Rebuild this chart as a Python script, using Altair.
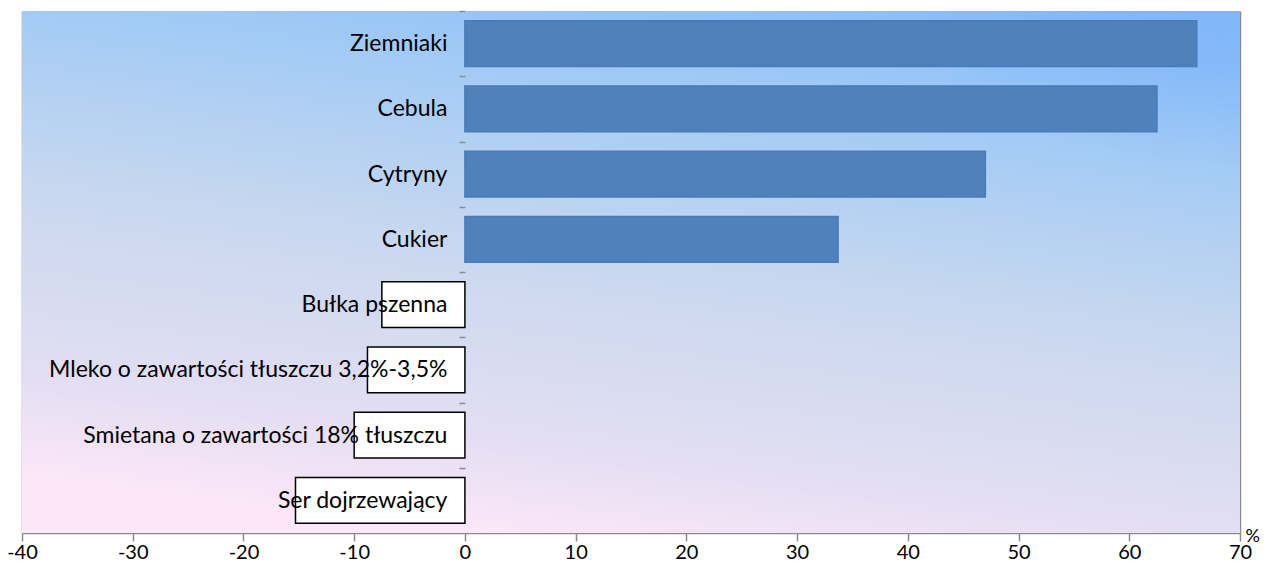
import altair as alt
import pandas as pd

categories = [
    "Ziemniaki",
    "Cebula",
    "Cytryny",
    "Cukier",
    "Bułka pszenna",
    "Mleko o zawartości tłuszczu 3,2%-3,5%",
    "Smietana o zawartości 18% tłuszczu",
    "Ser dojrzewający",
]
values = [66.1, 62.5, 47.0, 33.7, -7.5, -8.8, -10.0, -15.3]
x_ticks = [-40, -30, -20, -10, 0, 10, 20, 30, 40, 50, 60, 70]

df = pd.DataFrame({"category": categories, "value": values})

W, H = 1218, 522
X_MIN, X_MAX = -40, 70
zero_px = W * (0 - X_MIN) / (X_MAX - X_MIN)
step = H / len(categories)
FONT = "Lato"
GRID = "#8c8c8c"

base_gradient = {
    "gradient": "linear",
    "x1": 0.35, "y1": 1, "x2": 0.65, "y2": 0,
    "stops": [
        {"offset": 0.0, "color": "#FCE7F8"},
        {"offset": 0.18, "color": "#E3DEF3"},
        {"offset": 0.5, "color": "#C9D8EF"},
        {"offset": 0.82, "color": "#A3CBF5"},
        {"offset": 1.0, "color": "#8EC0F8"},
    ],
}
corner_gradient = {
    "gradient": "radial",
    "x1": 1, "y1": 0, "r1": 0,
    "x2": 1, "y2": 0, "r2": 0.42,
    "stops": [
        {"offset": 0.0, "color": "rgba(78,145,255,1)"},
        {"offset": 0.35, "color": "rgba(90,155,255,0.6)"},
        {"offset": 1.0, "color": "rgba(100,160,255,0)"},
    ],
}

one = alt.Data(values=[{"k": 1}])
backdrop = alt.Chart(one).mark_rect(fill=base_gradient).encode(
    x=alt.value(0), x2=alt.value("width"), y=alt.value(0), y2=alt.value("height")
)
glow = alt.Chart(one).mark_rect(fill=corner_gradient).encode(
    x=alt.value(0), x2=alt.value("width"), y=alt.value(0), y2=alt.value("height")
)

bars = alt.Chart(df).mark_bar(strokeWidth=1.5).encode(
    y=alt.Y(
        "category:N",
        sort=categories,
        scale=alt.Scale(paddingInner=0.3, paddingOuter=0.15),
        axis=alt.Axis(
            title=None,
            offset=-zero_px,
            domain=False,
            grid=False,
            ticks=True,
            tickSize=6,
            tickWidth=1.5,
            tickColor=GRID,
            bandPosition=0.5,
            tickOffset=-step / 2,
            labelOffset=step / 2,
            labelFont=FONT,
            labelFontSize=23,
            labelColor="#000000",
            labelPadding=12,
            labelLimit=600,
            zindex=1,
        ),
    ),
    x=alt.X(
        "value:Q",
        scale=alt.Scale(domain=[X_MIN, X_MAX], nice=False, zero=False),
        axis=alt.Axis(
            values=x_ticks,
            grid=True,
            gridColor=GRID,
            gridWidth=1.5,
            domainColor=GRID,
            domainWidth=1.5,
            tickColor=GRID,
            tickWidth=1.5,
            tickSize=8,
            labelExpr="'' + datum.value",
            labelFont=FONT,
            labelFontSize=20,
            labelColor="#000000",
            labelPadding=1,
            labelFlush=False,
            title="%",
            titleFont=FONT,
            titleFontSize=18,
            titleFontWeight="normal",
            titleColor="#000000",
            titleAngle=0,
            titleAlign="left",
            titleBaseline="middle",
            titleX=W + 5,
            titleY=3,
        ),
    ),
    fill=alt.condition("datum.value > 0", alt.value("#4F81BD"), alt.value("#FFFFFF")),
    stroke=alt.condition("datum.value > 0", alt.value("#4A7BB7"), alt.value("#000000")),
)

chart = (
    alt.layer(backdrop, glow, bars)
    .properties(
        width=W,
        height=H,
        autosize="none",
        padding={"left": 14, "top": 3, "right": 20, "bottom": 30},
        background="#FFFFFF",
    )
    .configure_view(strokeWidth=0)
)

chart.save("out.html", embed_options={"renderer": "svg", "actions": False})
